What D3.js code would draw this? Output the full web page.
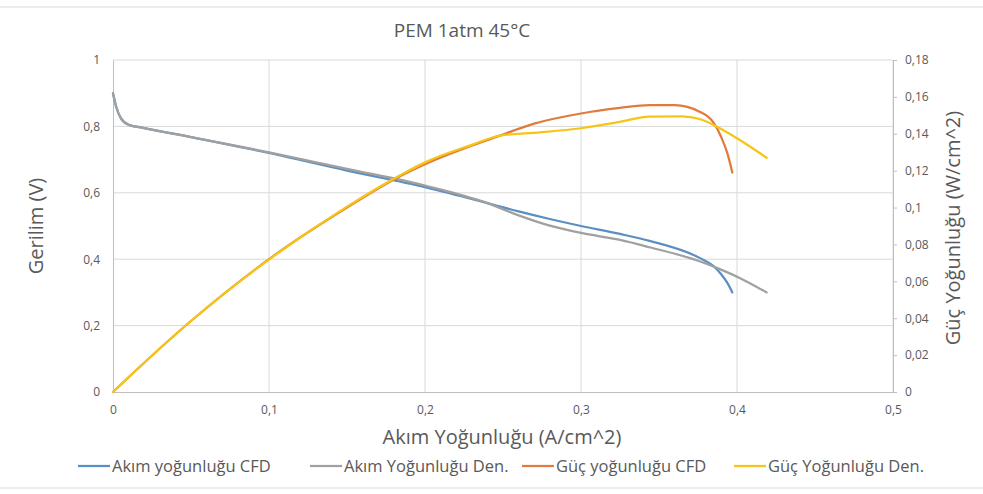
<!DOCTYPE html>
<html>
<head>
<meta charset="utf-8">
<script src="https://cdnjs.cloudflare.com/ajax/libs/d3/7.8.5/d3.min.js"></script>
<style>
  body { margin: 0; background: #fff; }
  svg text { font-family: 'Liberation Sans Narrow', 'Open Sans', sans-serif; fill: #595959; }
</style>
</head>
<body>
<div id="chart"></div>
<script>
// Akım yoğunluğu CFD (V)
var cfdI = [0, 0.002, 0.005, 0.01, 0.02, 0.05, 0.1, 0.15, 0.2, 0.24, 0.26, 0.28, 0.3, 0.325, 0.344, 0.376, 0.385, 0.39, 0.394, 0.397];
var cfdV = [0.90, 0.86, 0.825, 0.805, 0.795, 0.768, 0.72, 0.667, 0.617, 0.569, 0.544, 0.521, 0.50, 0.476, 0.455, 0.404, 0.379, 0.354, 0.327, 0.30];
// Akım Yoğunluğu Den. (V)
var denI = [0, 0.002, 0.005, 0.01, 0.02, 0.05, 0.1, 0.15, 0.2, 0.24, 0.26, 0.28, 0.3, 0.325, 0.344, 0.376, 0.389, 0.401, 0.419];
var denV = [0.90, 0.86, 0.825, 0.805, 0.795, 0.768, 0.722, 0.672, 0.622, 0.569, 0.532, 0.501, 0.479, 0.458, 0.436, 0.394, 0.37, 0.345, 0.30];
// Güç yoğunluğu CFD (W/cm^2)
var cfdPI = [0, 0.01, 0.05, 0.1, 0.15, 0.184, 0.2, 0.248, 0.27, 0.3, 0.325, 0.344, 0.36, 0.376, 0.385, 0.39, 0.394, 0.397];
var cfdP = [0, 0.008, 0.0385, 0.072, 0.1, 0.117, 0.1235, 0.139, 0.1455, 0.151, 0.154, 0.1556, 0.1555, 0.152, 0.146, 0.138, 0.129, 0.119];
// Güç Yoğunluğu Den. (W/cm^2)
var denPI = [0, 0.01, 0.05, 0.1, 0.15, 0.184, 0.2, 0.23, 0.248, 0.269, 0.3, 0.325, 0.344, 0.365, 0.376, 0.389, 0.401, 0.419];
var denP = [0, 0.008, 0.0385, 0.0718, 0.1005, 0.1175, 0.1245, 0.134, 0.139, 0.1405, 0.143, 0.1465, 0.1493, 0.1495, 0.148, 0.143, 0.137, 0.127];

var xTicks = [0, 0.1, 0.2, 0.3, 0.4, 0.5];
var yTicks = [0, 0.2, 0.4, 0.6, 0.8, 1];
var y2Ticks = [0, 0.02, 0.04, 0.06, 0.08, 0.1, 0.12, 0.14, 0.16, 0.18];

var seriesNames = ["Akım yoğunluğu CFD", "Akım Yoğunluğu Den.", "Güç yoğunluğu CFD", "Güç Yoğunluğu Den."];
var seriesColors = ["#5b8fc2", "#a0a0a0", "#e07b3c", "#f5c518"];

var width = 983, height = 494;
var plotLeft = 113, plotRight = 893, plotTop = 60, plotBottom = 392;

var svg = d3.select("#chart").append("svg")
    .attr("width", width)
    .attr("height", height);

// chart border
svg.append("rect")
    .attr("x", -2).attr("y", 7)
    .attr("width", width + 4).attr("height", 481)
    .attr("fill", "none")
    .attr("stroke", "#d9d9d9");

var x = d3.scaleLinear().domain([0, 0.5]).range([plotLeft, plotRight]);
var y = d3.scaleLinear().domain([0, 1]).range([plotBottom, plotTop]);
var y2 = d3.scaleLinear().domain([0, 0.18]).range([plotBottom, plotTop]);

function comma(v) { return String(+v.toFixed(2)).replace(".", ","); }

// gridlines
svg.append("g").selectAll("line").data(yTicks.slice(1)).join("line")
    .attr("x1", plotLeft).attr("x2", plotRight)
    .attr("y1", function (d) { return y(d); }).attr("y2", function (d) { return y(d); })
    .attr("stroke", "#d9d9d9");
svg.append("g").selectAll("line").data(xTicks.slice(1)).join("line")
    .attr("y1", plotTop).attr("y2", plotBottom)
    .attr("x1", function (d) { return x(d); }).attr("x2", function (d) { return x(d); })
    .attr("stroke", "#d9d9d9");

// axes
var xAxis = svg.append("g")
    .attr("transform", "translate(0," + plotBottom + ")")
    .call(d3.axisBottom(x).tickValues(xTicks).tickSize(0).tickPadding(13).tickFormat(comma));
var yAxis = svg.append("g")
    .attr("transform", "translate(" + plotLeft + ",0)")
    .call(d3.axisLeft(y).tickValues(yTicks).tickSize(0).tickPadding(13).tickFormat(comma));
var y2Axis = svg.append("g")
    .attr("transform", "translate(" + plotRight + ",0)")
    .call(d3.axisRight(y2).tickValues(y2Ticks).tickSize(4).tickPadding(8).tickFormat(comma));

[xAxis, yAxis, y2Axis].forEach(function (a) {
    a.select(".domain").attr("stroke", "#bfbfbf");
    a.selectAll(".tick line").attr("stroke", "#bfbfbf");
    a.selectAll(".tick text").style("font-size", "12px").attr("fill", "#595959");
});

// lines
var lineV = d3.line()
    .x(function (d) { return x(d[0]); })
    .y(function (d) { return y(d[1]); })
    .curve(d3.curveMonotoneX);
var lineP = d3.line()
    .x(function (d) { return x(d[0]); })
    .y(function (d) { return y2(d[1]); })
    .curve(d3.curveMonotoneX);

var series = [
    { pts: d3.zip(cfdI, cfdV), line: lineV },
    { pts: d3.zip(denI, denV), line: lineV },
    { pts: d3.zip(cfdPI, cfdP), line: lineP },
    { pts: d3.zip(denPI, denP), line: lineP }
];
series.forEach(function (s, i) {
    svg.append("path")
        .attr("d", s.line(s.pts))
        .attr("fill", "none")
        .attr("stroke", seriesColors[i])
        .attr("stroke-width", 2.25)
        .attr("stroke-linejoin", "round")
        .attr("stroke-linecap", "round");
});

// titles
svg.append("text")
    .attr("x", 462).attr("y", 37)
    .attr("text-anchor", "middle")
    .style("font-size", "19px")
    .text("PEM 1atm 45°C");

svg.append("text")
    .attr("x", 502).attr("y", 444)
    .attr("text-anchor", "middle")
    .style("font-size", "20px")
    .text("Akım Yoğunluğu (A/cm^2)");

svg.append("text")
    .attr("transform", "translate(43,226) rotate(-90)")
    .attr("text-anchor", "middle")
    .style("font-size", "20px")
    .text("Gerilim (V)");

svg.append("text")
    .attr("transform", "translate(960,228) rotate(-90)")
    .attr("text-anchor", "middle")
    .style("font-size", "20px")
    .text("Güç Yoğunluğu (W/cm^2)");

// legend
var legendX = [78, 310, 522, 734];
var legend = svg.append("g").attr("transform", "translate(0,466)");
for (var i = 0; i < seriesNames.length; i++) {
    legend.append("line")
        .attr("x1", legendX[i]).attr("x2", legendX[i] + 32)
        .attr("y1", 0).attr("y2", 0)
        .attr("stroke", seriesColors[i])
        .attr("stroke-width", 2.25);
    legend.append("text")
        .attr("x", legendX[i] + 34).attr("y", 5.5)
        .style("font-size", "16.5px")
        .text(seriesNames[i]);
}
</script>
</body>
</html>
